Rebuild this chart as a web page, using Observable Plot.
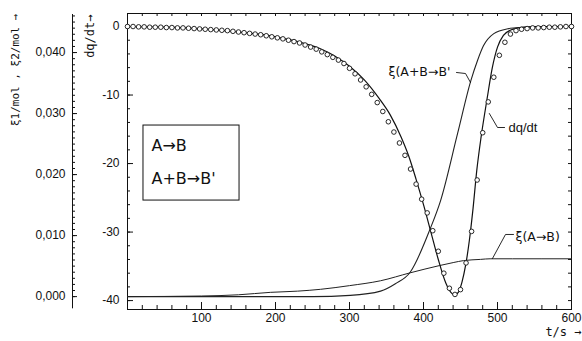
<!DOCTYPE html>
<html><head><meta charset="utf-8">
<script src="https://cdn.jsdelivr.net/npm/d3@7"></script>
<script src="https://cdn.jsdelivr.net/npm/@observablehq/plot@0.6"></script>
<style>body{margin:0;background:#fff}#chart{width:582px;height:341px}</style>
</head><body><div id="chart"></div>
<script>
// ---- data ----
// fitted heat-flow curve dq/dt
const rateT = [0,50,100,150,200,230,260,280,300,320,340,355,370,380,390,400,410,420,430,437,442,447,452,457,462,467,472,478,486,493,500,508,518,530,550,600];
const rateV = [0,-0.1,-0.35,-0.8,-1.5,-2.2,-3.2,-4.3,-5.8,-7.8,-10.5,-12.9,-16.2,-18.9,-22.3,-26.0,-30.0,-34.0,-37.4,-38.8,-39.2,-38.8,-37.3,-34.8,-31.2,-26.5,-21.0,-16.0,-10.5,-6.0,-3.0,-1.3,-0.5,-0.15,0,0];
// measured points (circles)
const expT = [0,7.5,15,22.5,30,37.5,45,52.5,60,67.5,75,82.5,90,97.5,105,112.5,120,127.5,135,142.5,150,157.5,165,172.5,180,187.5,195,202.5,210,217.5,225,232.5,240,247.5,255,262.5,270,277.5,285,292.5,300,307.5,315,322.5,330,337.5,345,352.5,360,367.5,375,382.5,390,397.5,405,412.5,420,427.5,435,442.5,450,457.5,465,472.5,480,487.5,495,502.5,510,517.5,525,532.5,540,547.5,555,562.5,570,577.5,585,592.5,600];
const expV = [0,0,-0.05,-0.05,-0.1,-0.1,-0.1,-0.15,-0.15,-0.2,
  -0.2,-0.25,-0.3,-0.35,-0.4,-0.45,-0.5,-0.55,-0.6,-0.7,
  -0.8,-0.9,-1.0,-1.1,-1.2,-1.35,-1.5,-1.65,-1.8,-2.0,
  -2.2,-2.4,-2.7,-3.0,-3.3,-3.7,-4.1,-4.5,-4.9,-5.4,
  -6.1,-6.9,-7.8,-8.8,-9.9,-11.1,-12.4,-13.9,-15.4,-17.0,
  -18.8,-20.8,-23.0,-25.2,-27.2,-29.8,-32.8,-36.0,-38.2,-39.1,
  -38.4,-34.5,-29.9,-22.4,-15.5,-11.0,-7.4,-4.2,-2.3,-1.1,
  -0.6,-0.4,-0.3,-0.2,-0.2,-0.15,-0.1,-0.1,-0.05,0,
  0];
// extent of reaction xi(A->B) in mol
const xi1T = [0,100,150,193,230,261,300,342,382,422,441,454,477,490,520,600];
const xi1V = [0,0.0001,0.0003,0.0007,0.0009,0.0012,0.0018,0.0026,0.0039,0.0051,0.0056,0.0059,0.0061,0.0062,0.0062,0.0062];
// extent of reaction xi(A+B->B') in mol
const xi2T = [0,250,301,342,362,382,409,423,446,464,473,481,495,514,531,600];
const xi2V = [0,0,0.0002,0.0009,0.0021,0.0040,0.0111,0.0157,0.0267,0.0354,0.0387,0.0411,0.0431,0.0439,0.0441,0.0443];
// tick labels
const xTicks = [100,200,300,400,500,600];
const yTicks = [0,-10,-20,-30,-40];
const xiTicks = [0,0.01,0.02,0.03,0.04];
const legendLines = ["A\u2192B", "A+B\u2192B'"];

// ---- secondary axis: xi (mol) drawn on the dq/dt scale ----
const XI_BASE = -39.42, XI_SCALE = 890.5;
const xiToY = v => XI_BASE + v * XI_SCALE;
const yToXi = y => (y - XI_BASE) / XI_SCALE;

const rate = d3.zip(rateT, rateV).map(([t, v]) => ({t, v}));
const exp = d3.zip(expT, expV).map(([t, v]) => ({t, v}));
const xi1 = d3.zip(xi1T, xi1V).map(([t, v]) => ({t, v: xiToY(v)}));
const xi2 = d3.zip(xi2T, xi2V).map(([t, v]) => ({t, v: xiToY(v)}));

const xMinor = d3.range(20, 600, 20);
const yMinor = d3.range(-40, 1, 2);
const yMajor = d3.range(-40, 1, 10);
const xiMinor = d3.range(0, 0.0465, 0.001).map(xiToY);

const sans = "'Liberation Sans', Arial, Helvetica, sans-serif";
const mono = "'DejaVu Sans Mono', 'Liberation Mono', monospace";
const arrowSans = "'DejaVu Sans', sans-serif";
const ink = "#111";

const chart = Plot.plot({
  width: 582, height: 341,
  marginLeft: 127, marginRight: 11, marginTop: 13, marginBottom: 32,
  x: {domain: [0, 600], label: null},
  y: {domain: [-41.3, 1.9], label: null},
  style: {fontFamily: sans, fontSize: "12px", color: ink, background: "white", overflow: "visible"},
  marks: [
    Plot.frame({stroke: ink, strokeWidth: 1}),
    // inner ticks of the frame
    Plot.tickX(xMinor, {insetTop: 292, stroke: ink}),
    Plot.tickX(xTicks, {insetTop: 289, stroke: ink}),
    Plot.tickX(xMinor, {insetBottom: 293, stroke: ink}),
    Plot.tickY(yMinor, {insetRight: 441, stroke: ink}),
    Plot.tickY(yMajor, {insetRight: 438, stroke: ink}),
    Plot.tickY(yMinor, {insetLeft: 441, stroke: ink}),
    Plot.axisX({ticks: xTicks, tickSize: 0, tickPadding: 4, tickFormat: d => String(d)}),
    Plot.axisY({ticks: yTicks, tickSize: 0, tickPadding: 8, tickFormat: d => String(d)}),
    // xi axis
    Plot.ruleX([0], {dx: -55, y1: 1.75, y2: -41.2, stroke: ink}),
    Plot.axisY({anchor: "right", dx: -499, ticks: xiMinor, tickSize: 2, tickFormat: () => ""}),
    Plot.axisY({anchor: "right", dx: -499, ticks: xiTicks.map(xiToY), tickSize: 4, tickFormat: () => ""}),
    Plot.axisY({anchor: "left", dx: -55, ticks: xiTicks.map(xiToY), tickSize: 0, tickPadding: 7,
      tickFormat: d => yToXi(d).toFixed(3).replace(".", ",")}),
    // axis titles
    Plot.text(["dq/dt\u2192"], {text: d => d, frameAnchor: "top-left", dx: -42, dy: 1, rotate: -90,
      textAnchor: "end", fontFamily: mono, fontSize: 12}),
    Plot.text(["\u03BE1/mol , \u03BE2/mol \u2192"], {text: d => d, frameAnchor: "top-left", dx: -116, dy: 0, rotate: -90,
      textAnchor: "end", fontFamily: mono, fontSize: 11}),
    Plot.text(["t/s \u2192"], {text: d => d, frameAnchor: "bottom-right", dx: 10, dy: 26,
      textAnchor: "end", fontFamily: mono, fontSize: 12}),
    // curves
    Plot.line(xi1, {x: "t", y: "v", stroke: "#222", strokeWidth: 1, curve: "monotone-x"}),
    Plot.line(xi2, {x: "t", y: "v", stroke: "#222", strokeWidth: 1.1, curve: "monotone-x"}),
    Plot.line(rate, {x: "t", y: "v", stroke: ink, strokeWidth: 1.2, curve: "monotone-x"}),
    Plot.dot(exp, {x: "t", y: "v", r: 2.3, fill: "white", stroke: ink, strokeWidth: 0.9}),
    // curve labels with leader lines
    Plot.line([[444.6, -6.71], [456.8, -6.86], [463.5, -8.17]], {stroke: ink, strokeWidth: 0.9}),
    Plot.text(["\u03BE(A+B\u2192B'"], {text: d => d, x: 352.7, y: -6.71, textAnchor: "start", fontSize: 12.5, fontFamily: arrowSans}),
    Plot.line([[509.5, -14.74], [500, -14.74], [489, -12.7]], {stroke: ink, strokeWidth: 0.9}),
    Plot.text(["dq/dt"], {text: d => d, x: 514.9, y: -14.74, textAnchor: "start", fontSize: 13}),
    Plot.line([[521.6, -30.35], [510.8, -30.35], [493.2, -33.86]], {stroke: ink, strokeWidth: 0.9}),
    Plot.text(["\u03BE(A\u2192B)"], {text: d => d, x: 524.3, y: -30.65, textAnchor: "start", fontSize: 12.5, fontFamily: arrowSans}),
    // legend box
    Plot.rect([0], {x1: 21.6, x2: 151.4, y1: -14.45, y2: -25.4, fill: "white", stroke: ink, strokeWidth: 1}),
    Plot.text(legendLines, {text: d => d, x: 32.4, y: (d, i) => [-17.36, -22.18][i], textAnchor: "start", fontSize: 16, fontFamily: arrowSans})
  ]
});
document.getElementById("chart").appendChild(chart);
</script>
</body></html>
